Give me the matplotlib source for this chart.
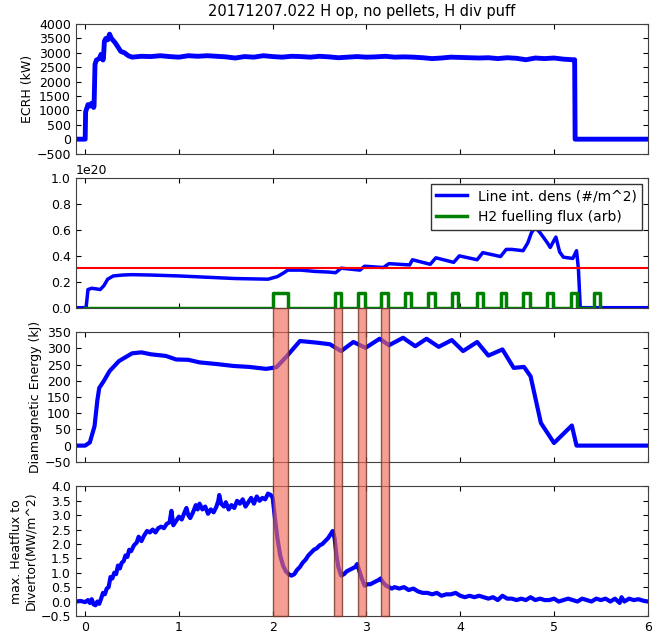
import numpy as np
import matplotlib
matplotlib.use('Agg')
import matplotlib.pyplot as plt
from matplotlib.patches import Rectangle
from matplotlib.transforms import blended_transform_factory

# ECRH power (kW)
ecrh_t = [-0.1, 0.0, 0.005, 0.03, 0.05, 0.07, 0.09, 0.095, 0.105, 0.12, 0.15, 0.17,
          0.19, 0.195, 0.205, 0.22, 0.24, 0.26, 0.28, 0.32, 0.35, 0.38, 0.42, 0.46,
          0.5, 0.6, 0.7, 0.8, 0.9, 1.0, 1.1, 1.2, 1.3, 1.4, 1.5, 1.6, 1.7, 1.8, 1.9,
          2.0, 2.1, 2.2, 2.3, 2.4, 2.5, 2.6, 2.7, 2.8, 2.9, 3.0, 3.1, 3.2, 3.3, 3.4,
          3.5, 3.6, 3.7, 3.8, 3.9, 4.0, 4.1, 4.2, 4.3, 4.4, 4.5, 4.6, 4.7, 4.8, 4.9,
          5.0, 5.1, 5.2, 5.22, 5.225, 6.0]
ecrh_p = [0, 0, 950, 1200, 1150, 1250, 1100, 1150, 2600, 2750, 2800, 2950,
          2750, 2800, 3400, 3500, 3450, 3650, 3500, 3350, 3200, 3050, 3000, 2900,
          2850, 2880, 2870, 2900, 2870, 2850, 2900, 2880, 2900, 2880, 2860, 2820, 2870, 2850, 2900,
          2870, 2850, 2880, 2870, 2850, 2880, 2860, 2830, 2850, 2870, 2850, 2860, 2880, 2850, 2860,
          2850, 2830, 2800, 2820, 2850, 2840, 2830, 2820, 2830, 2800, 2830, 2810, 2760, 2820, 2800,
          2820, 2780, 2760, 2760, 0, 0]

# line integrated density (1e20 /m^2)
dens_t = [-0.1, 0.0, 0.01, 0.03, 0.07, 0.12, 0.16, 0.2, 0.24, 0.3, 0.4, 0.5, 0.7,
          1.0, 1.3, 1.6, 1.95, 2.05, 2.12, 2.16, 2.3, 2.45, 2.6, 2.67, 2.73, 2.93,
          2.98, 3.18, 3.24, 3.46, 3.49, 3.68, 3.74, 3.93, 3.99, 4.18, 4.24, 4.43,
          4.49, 4.55, 4.67, 4.72, 4.76, 4.8, 4.85, 4.89, 4.93, 4.96, 5.0, 5.02,
          5.06, 5.1, 5.2, 5.24, 5.26, 5.28, 6.0]
dens_v = [0, 0, 0.0, 0.14, 0.15, 0.145, 0.14, 0.17, 0.22, 0.245, 0.252, 0.255, 0.252,
          0.245, 0.235, 0.225, 0.22, 0.24, 0.27, 0.29, 0.29, 0.28, 0.275, 0.27, 0.305, 0.29,
          0.32, 0.31, 0.34, 0.33, 0.37, 0.335, 0.385, 0.35, 0.40, 0.37, 0.425, 0.395,
          0.45, 0.45, 0.44, 0.5, 0.58, 0.62, 0.58, 0.54, 0.50, 0.465, 0.52, 0.545,
          0.43, 0.39, 0.38, 0.44, 0.3, 0.0, 0.0]
dens_limit = 0.31

# H2 fuelling valve pulses (start, end), arbitrary height
puff_start = [2.0, 2.66, 2.91, 3.16, 3.41, 3.66, 3.91, 4.18, 4.43, 4.67, 4.93, 5.18, 5.43]
puff_end = [2.16, 2.73, 2.98, 3.23, 3.48, 3.73, 3.98, 4.24, 4.49, 4.74, 4.99, 5.24, 5.49]
puff_height = 0.11

# diamagnetic energy (kJ)
wdia_t = [-0.1, 0.0, 0.05, 0.1, 0.13, 0.15, 0.2, 0.26, 0.36, 0.5, 0.6, 0.7, 0.86,
          0.97, 1.1, 1.22, 1.4, 1.58, 1.75, 1.93, 2.04, 2.15, 2.29, 2.47, 2.61,
          2.73, 2.86, 2.99, 3.14, 3.24, 3.39, 3.52, 3.64, 3.77, 3.91, 4.03, 4.18,
          4.3, 4.45, 4.57, 4.68, 4.75, 4.86, 5.0, 5.19, 5.24, 6.0]
wdia_v = [0, 0, 10, 60, 140, 178, 200, 230, 261, 285, 288, 282, 277,
          266, 265, 257, 252, 246, 243, 237, 242, 276, 323, 318, 313,
          292, 320, 302, 330, 310, 333, 307, 330, 305, 326, 292, 320,
          278, 297, 240, 243, 214, 70, 8, 62, 0, 0]

# max. divertor heat flux (MW/m^2)
q_t = [-0.1, -0.05, 0.0, 0.03, 0.05, 0.07, 0.09, 0.11, 0.13, 0.15, 0.17, 0.19, 0.21,
       0.23, 0.25, 0.27, 0.29, 0.31, 0.33, 0.35, 0.37, 0.39, 0.41, 0.43, 0.45, 0.47,
       0.49, 0.52, 0.55, 0.57, 0.6, 0.63, 0.66, 0.69, 0.72, 0.75, 0.78, 0.81, 0.84,
       0.87, 0.9, 0.92, 0.94, 0.97, 1.0, 1.03, 1.06, 1.08, 1.1, 1.12, 1.15, 1.18,
       1.2, 1.22, 1.25, 1.28, 1.31, 1.34, 1.37, 1.4, 1.42, 1.43, 1.45, 1.48, 1.5,
       1.53, 1.56, 1.59, 1.62, 1.65, 1.68, 1.71, 1.74, 1.77, 1.8, 1.83, 1.86, 1.89,
       1.92, 1.95, 1.98, 2.0, 2.02, 2.05, 2.08, 2.11, 2.14, 2.17, 2.2, 2.23, 2.26,
       2.29, 2.32, 2.35, 2.38, 2.41, 2.44, 2.47, 2.5, 2.53, 2.56, 2.59, 2.62, 2.64,
       2.66, 2.68, 2.7, 2.73, 2.76, 2.79, 2.82, 2.85, 2.88, 2.9, 2.92, 2.95, 2.98,
       3.01, 3.04, 3.07, 3.1, 3.13, 3.15, 3.18, 3.21, 3.24, 3.27, 3.3, 3.35, 3.4,
       3.45, 3.5, 3.55, 3.6, 3.65, 3.7, 3.75, 3.8, 3.85, 3.9, 3.95, 4.0, 4.05, 4.1,
       4.15, 4.2, 4.25, 4.3, 4.35, 4.4, 4.45, 4.5, 4.55, 4.6, 4.65, 4.7, 4.75, 4.8,
       4.85, 4.9, 4.95, 5.0, 5.05, 5.1, 5.15, 5.2, 5.25, 5.3, 5.35, 5.4, 5.45, 5.5,
       5.55, 5.6, 5.65, 5.7, 5.72, 5.75, 5.8, 5.85, 5.9, 5.95, 6.0]
q_v = [0.0, 0.02, -0.02, 0.05, -0.05, 0.08, -0.1, -0.13, 0.0, -0.08, 0.1, 0.3, 0.25,
       0.45, 0.5, 0.85, 0.8, 1.0, 0.95, 1.25, 1.15, 1.35, 1.4, 1.6, 1.55, 1.8,
       1.75, 1.95, 2.05, 2.25, 2.1, 2.3, 2.45, 2.4, 2.5, 2.4, 2.55, 2.6, 2.55,
       2.7, 2.75, 3.15, 2.65, 2.8, 2.95, 2.85, 3.1, 3.25, 3.0, 2.9, 3.1, 3.35,
       3.2, 3.4, 3.2, 3.3, 3.05, 3.2, 3.1, 3.3, 3.5, 3.7, 3.4, 3.3, 3.45,
       3.2, 3.35, 3.25, 3.5, 3.4, 3.55, 3.3, 3.45, 3.6, 3.4, 3.65, 3.5, 3.6,
       3.55, 3.75, 3.7, 3.6, 3.0, 2.2, 1.6, 1.25, 1.05, 0.95, 0.9, 0.95, 1.1,
       1.2, 1.35, 1.45, 1.6, 1.7, 1.8, 1.85, 1.95, 2.0, 2.1, 2.2, 2.35, 2.45,
       2.2, 1.6, 1.2, 0.9, 0.95, 1.05, 1.1, 1.15, 1.2, 1.3, 1.1, 0.8, 0.55,
       0.6, 0.6, 0.65, 0.7, 0.75, 0.8, 0.65, 0.55, 0.5, 0.45, 0.5, 0.45, 0.5,
       0.4, 0.45, 0.35, 0.3, 0.3, 0.25, 0.3, 0.2, 0.25, 0.25, 0.3, 0.2, 0.15, 0.2,
       0.15, 0.2, 0.15, 0.1, 0.15, 0.05, 0.2, 0.1, 0.1, 0.05, 0.1, 0.05, 0.15, 0.05,
       0.1, 0.05, 0.05, 0.1, 0.0, 0.05, 0.1, 0.05, 0.0, 0.1, 0.05, 0.0, 0.1, 0.05,
       0.1, 0.0, 0.1, -0.05, 0.15, 0.0, 0.1, 0.05, 0.08, 0.03, 0.0]

# marked puff windows
span_start = [2.0, 2.65, 2.91, 3.16]
span_end = [2.16, 2.74, 2.99, 3.24]

# build the step trace of the valve from the pulse times
puff_t = [0.0]
puff_v = [0.0]
for s, e in zip(puff_start, puff_end):
    puff_t += [s, s, e, e]
    puff_v += [0.0, puff_height, puff_height, 0.0]

plt.rcParams['font.size'] = 9
plt.rcParams['xtick.direction'] = 'in'
plt.rcParams['ytick.direction'] = 'in'
plt.rcParams['xtick.top'] = True
plt.rcParams['ytick.right'] = True
plt.rcParams['axes.edgecolor'] = '0.25'

fig, axs = plt.subplots(4, 1, sharex=True, figsize=(6.59, 6.33), dpi=100)
fig.subplots_adjust(left=0.115, right=0.983, top=0.962, bottom=0.027, hspace=0.19)
ax1, ax2, ax3, ax4 = axs

ax1.plot(ecrh_t, ecrh_p, color='b', lw=3.5)
ax1.set_ylim(-500, 4000)
ax1.set_yticks(np.arange(-500, 4001, 500))
ax1.set_ylabel('ECRH (kW)', labelpad=2)
ax1.set_title('20171207.022 H op, no pellets, H div puff', fontsize=10.5)

ax2.plot(dens_t, np.array(dens_v) * 1e20, color='b', lw=2.5, label='Line int. dens (#/m^2)')
ax2.plot(puff_t, np.array(puff_v) * 1e20, color='g', lw=2.5, label='H2 fuelling flux (arb)')
ax2.axhline(dens_limit * 1e20, color='r', lw=1.5)
ax2.set_ylim(0, 1e20)
ax2.set_yticks(np.arange(0, 1.01, 0.2) * 1e20)
ax2.legend(loc='upper right', fontsize=10, fancybox=False, edgecolor='0.2',
           framealpha=1, borderaxespad=0.4, handlelength=2.2)

ax3.plot(wdia_t, wdia_v, color='b', lw=3)
ax3.set_ylim(-50, 350)
ax3.set_yticks(np.arange(-50, 351, 50))
ax3.set_ylabel('Diamagnetic Energy (kJ)', labelpad=2)

ax4.plot(q_t, q_v, color='b', lw=3)
ax4.set_ylim(-0.5, 4.0)
ax4.set_yticks(np.arange(-0.5, 4.01, 0.5))
ax4.set_ylabel('max. Heatflux to\nDivertor(MW/m^2)', labelpad=2)
ax4.set_xlim(-0.1, 6)
ax4.set_xticks(range(0, 7))

# shaded puff windows spanning the lower three panels
y_bot = ax4.get_position().y0
y_top = ax2.get_position().y0
trans = blended_transform_factory(ax4.transData, fig.transFigure)
for s, e in zip(span_start, span_end):
    fig.patches.append(Rectangle((s, y_bot), e - s, y_top - y_bot, transform=trans,
                                 facecolor=(0.94, 0.42, 0.35, 0.65),
                                 edgecolor=(0.45, 0.2, 0.15, 0.8), lw=1, zorder=5))

fig.savefig('out.png', dpi=100)
